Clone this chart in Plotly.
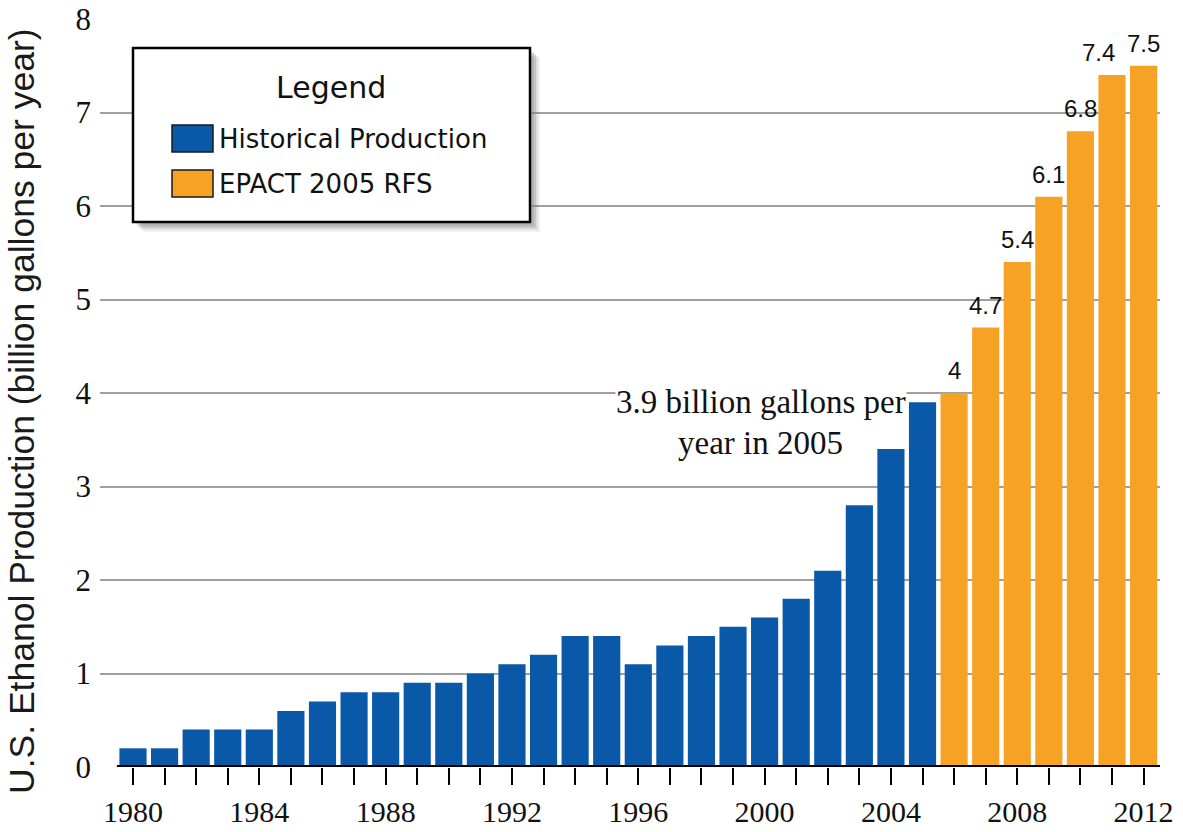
import plotly.graph_objects as go

# ---------------- data ----------------
hist_years = [1980, 1981, 1982, 1983, 1984, 1985, 1986, 1987, 1988, 1989,
              1990, 1991, 1992, 1993, 1994, 1995, 1996, 1997, 1998, 1999,
              2000, 2001, 2002, 2003, 2004, 2005]
hist_values = [0.2, 0.2, 0.4, 0.4, 0.4, 0.6, 0.7, 0.8, 0.8, 0.9,
               0.9, 1.0, 1.1, 1.2, 1.4, 1.4, 1.1, 1.3, 1.4, 1.5,
               1.6, 1.8, 2.1, 2.8, 3.4, 3.9]
rfs_years = [2006, 2007, 2008, 2009, 2010, 2011, 2012]
rfs_values = [4.0, 4.7, 5.4, 6.1, 6.8, 7.4, 7.5]
rfs_labels = ["4", "4.7", "5.4", "6.1", "6.8", "7.4", "7.5"]
series_names = ["Historical Production", "EPACT 2005 RFS"]
y_tick_values = [0, 1, 2, 3, 4, 5, 6, 7, 8]
x_tick_years = hist_years + rfs_years
x_tick_labels = [str(y) if y % 4 == 0 else "" for y in x_tick_years]
y_title = "U.S. Ethanol Production (billion gallons per year)"
note_lines = ["3.9 billion gallons per", "year in 2005"]
legend_title = "Legend"

# ---------------- style ----------------
W, H = 1183, 832
ML, MR, MT, MB = 100, 23, 19, 65
PW, PH = W - ML - MR, H - MT - MB
BLUE = "#0A59A9"
ORANGE = "#F6A325"
GRID = "#A0A0A0"
SERIF = "Liberation Serif, Times New Roman, serif"
SANS = "Liberation Sans, Arial, sans-serif"
LEGFONT = "DejaVu Sans, Verdana, sans-serif"


def px_x(p):
    return (p - ML) / PW


def px_y(p):
    return (H - MB - p) / PH


fig = go.Figure()
fig.add_bar(x=hist_years, y=hist_values, name=series_names[0],
            marker=dict(color=BLUE, line=dict(width=0)), width=0.86,
            showlegend=False, hoverinfo="x+y")
fig.add_bar(x=rfs_years, y=rfs_values, name=series_names[1],
            marker=dict(color=ORANGE, line=dict(width=0)), width=0.86,
            showlegend=False, hoverinfo="x+y")

annotations = []
# value labels above the RFS bars
for yr, v, lab in zip(rfs_years, rfs_values, rfs_labels):
    annotations.append(dict(
        x=yr, y=v, xref="x", yref="y", text=lab, showarrow=False,
        xanchor="center", yanchor="bottom", yshift=7,
        xshift=-14 if lab == rfs_labels[-2] else 0,
        font=dict(family=SANS, size=24, color="#111111")))

# note on 2005 bar (one annotation per line, white backing hides gridline)
for i, line in enumerate(note_lines):
    annotations.append(dict(
        x=hist_years[-1], y=hist_values[-1], xref="x", yref="y", text=line,
        showarrow=False, xanchor="center", yanchor="middle",
        xshift=-162, yshift=-41 * i,
        bgcolor="white", borderpad=0,
        font=dict(family=SERIF, size=33, color="#111111")))

# y axis title
annotations.append(dict(
    x=px_x(22), y=px_y(411), xref="paper", yref="paper", text=y_title,
    showarrow=False, textangle=-90, xanchor="center", yanchor="middle",
    font=dict(family=SANS, size=35.5, color="#1a1a1a")))

# custom legend
annotations.append(dict(
    x=px_x(331), y=px_y(87), xref="paper", yref="paper", text=legend_title,
    showarrow=False, xanchor="center", yanchor="middle",
    font=dict(family=LEGFONT, size=30, color="#111111")))
for name, cy in zip(series_names, [138.5, 183.5]):
    annotations.append(dict(
        x=px_x(217), y=px_y(cy), xref="paper", yref="paper", text=name,
        showarrow=False, xanchor="left", yanchor="middle",
        font=dict(family=LEGFONT, size=26, color="#111111")))

shapes = []
# legend drop shadow
for off, op in [(10, 0.10), (8, 0.18), (6, 0.25), (4, 0.25)]:
    shapes.append(dict(type="rect", xref="paper", yref="paper",
                       x0=px_x(133 + off), x1=px_x(530 + off),
                       y0=px_y(222 + off), y1=px_y(48 + off),
                       fillcolor="#808080", opacity=op, line=dict(width=0)))
shapes.append(dict(type="rect", xref="paper", yref="paper",
                   x0=px_x(133), x1=px_x(530), y0=px_y(222), y1=px_y(48),
                   fillcolor="white", line=dict(color="black", width=2.5)))
for col, (t, b) in zip([BLUE, ORANGE], [(125, 152), (170, 197)]):
    shapes.append(dict(type="rect", xref="paper", yref="paper",
                       x0=px_x(172), x1=px_x(213), y0=px_y(b), y1=px_y(t),
                       fillcolor=col, line=dict(color="#1a1a1a", width=1.5)))

# black baseline axis
shapes.append(dict(type="line", xref="x", yref="y", x0=1979.49, x1=2012.52,
                   y0=0, y1=0, line=dict(color="black", width=4)))

fig.update_layout(
    width=W, height=H,
    margin=dict(l=ML, r=MR, t=MT, b=MB, pad=0, autoexpand=False),
    paper_bgcolor="white", plot_bgcolor="white",
    barmode="overlay", showlegend=False,
    annotations=annotations, shapes=shapes,
    xaxis=dict(range=[1978.955, 2012.52], tickvals=x_tick_years,
               ticktext=x_tick_labels, ticks="outside", ticklen=17,
               tickwidth=2, tickcolor="black", showgrid=False,
               zeroline=False, showline=False, automargin=False,
               ticklabelstandoff=1,
               tickfont=dict(family=SERIF, size=30, color="#111111")),
    yaxis=dict(range=[0, 8], tickvals=y_tick_values, showgrid=True,
               gridcolor=GRID, gridwidth=2, zeroline=False, showline=False,
               ticks="", ticklabelstandoff=8, automargin=False,
               tickfont=dict(family=SERIF, size=31, color="#111111")),
)

fig.write_html("out.html", config={"displayModeBar": False},
               post_script="document.body.style.margin='0';document.body.style.overflow='hidden';")
